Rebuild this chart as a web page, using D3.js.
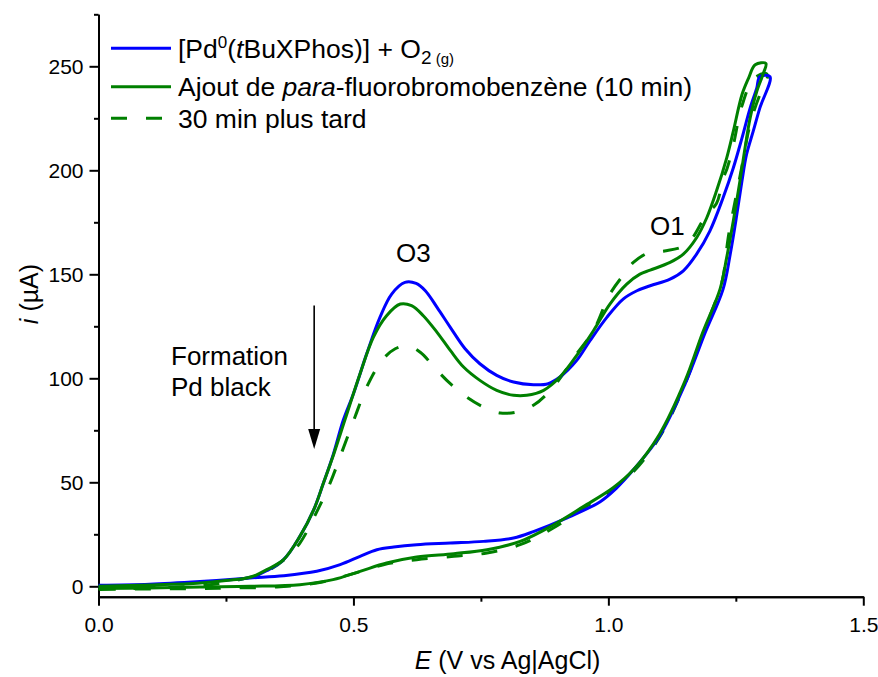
<!DOCTYPE html>
<html>
<head>
<meta charset="utf-8">
<script src="https://cdn.jsdelivr.net/npm/d3@7/dist/d3.min.js"></script>
<style>
  html, body { margin: 0; padding: 0; background: #fff; }
  svg { display: block; }
  text { font-family: Arial, "Liberation Sans", sans-serif; fill: #000; }
</style>
</head>
<body>
<div id="chart"></div>
<script>
// ---------- DATA (E in V vs Ag|AgCl, i in µA) ----------
const blueE = [0.00,0.10,0.20,0.25,0.30,0.33,0.363,0.395,0.422,0.441,0.460,0.480,0.500,0.526,0.552,0.575,0.601,0.623,0.641,0.664,0.690,0.719,0.748,0.781,0.814,0.853,0.882,0.905,0.938,0.964,0.997,1.029,1.056,1.082,1.121,1.147,1.173,1.199,1.225,1.245,1.262,1.278,1.291,1.297,1.317,
  1.297,1.284,1.271,1.262,1.252,1.239,1.225,1.19,1.15,1.10,1.049,1.015,0.984,0.918,0.853,0.814,0.755,0.690,0.624,0.579,0.546,0.513,0.474,0.428,0.363,0.297,0.199,0.10,0.00];
const blueI = [0.3,0.9,2.0,3.0,4.3,7.5,12.8,24.0,36.7,49.5,63.0,79.8,92.6,111.8,129.3,140.5,146.1,145.6,142.1,134.1,124.5,114.2,107.0,101.4,98.2,96.9,97.4,100.6,108.6,118.1,129.3,138.1,142.1,144.5,147.7,151.7,159.7,170.8,186.8,201.1,215.5,229.9,239.5,245.0,245.0,
  229.9,218.7,207.6,194.8,178.8,159.7,142.9,122.0,97.0,72.0,56.0,47.0,40.7,32.8,26.3,23.2,21.6,20.8,20.0,18.9,17.6,14.4,10.4,7.2,5.1,4.0,2.3,1.0,0.5];

const greenE = [0.00,0.10,0.20,0.25,0.30,0.33,0.363,0.395,0.422,0.441,0.462,0.484,0.513,0.539,0.565,0.592,0.614,0.637,0.664,0.690,0.716,0.748,0.781,0.814,0.840,0.873,0.905,0.938,0.971,1.003,1.036,1.062,1.082,1.121,1.147,1.173,1.193,1.212,1.232,1.245,1.262,1.275,1.288,1.309,
  1.304,1.291,1.278,1.268,1.258,1.245,1.232,1.219,1.185,1.15,1.10,1.049,1.010,0.951,0.892,0.827,0.762,0.697,0.624,0.565,0.513,0.460,0.395,0.297,0.199,0.10,0.00];
const greenI = [0.0,0.6,1.6,2.8,4.5,8.0,12.8,24.0,36.7,49.5,64.0,80.5,102.2,119.7,130.1,135.7,134.9,130.1,122.1,113.4,105.4,99.0,94.2,91.8,91.8,94.2,100.6,111.0,123.0,135.7,145.3,150.1,152.0,155.7,159.7,167.6,177.2,190.0,205.9,218.7,236.3,244.3,250.7,251.4,
  246.6,237.9,225.1,210.7,194.8,175.6,158.0,142.9,122.0,98.5,73.0,56.0,47.5,38.3,29.5,21.6,17.6,15.7,14.1,11.2,7.2,3.2,0.8,0.0,-0.3,-0.8,-1.1];

const dashE = [0.00,0.10,0.20,0.27,0.33,0.365,0.395,0.425,0.454,0.478,0.503,0.526,0.556,0.582,0.607,0.631,0.664,0.690,0.722,0.755,0.788,0.820,0.853,0.892,0.938,0.971,1.003,1.036,1.049,1.080,1.110,1.154,1.193,1.212,1.225,1.233,1.245,1.262,1.285,1.310,
  1.312,1.298,1.285,1.275,1.262,1.249,1.235,1.226,1.219,1.185,1.15,1.10,1.049,1.00,0.951,0.892,0.827,0.762,0.697,0.624,0.559,0.493,0.428,0.35,0.265,0.20,0.10,0.00];
const dashI = [-1.3,-0.9,0.3,2.8,7.2,13.0,20.8,34.3,49.5,65.0,81.4,95.8,108.6,114.2,115.5,112.5,103.8,97.4,91.0,86.2,83.3,83.8,87.0,95.8,111.8,123.0,140.5,151.7,155.7,160.5,161.2,164.5,179.0,184.0,196.0,201.0,212.0,231.0,244.0,246.5,
  245.0,236.9,228.0,219.0,202.0,185.7,167.6,150.0,143.0,121.0,97.0,71.5,55.0,45.0,37.5,28.0,20.0,16.0,14.4,12.8,10.4,5.6,1.6,-0.3,-0.8,-1.1,-1.3,-1.5];

const xMajorTicks = [0.0, 0.5, 1.0, 1.5];
const xMinorTicks = [0.25, 0.75, 1.25];
const yMajorTicks = [0, 50, 100, 150, 200, 250];
const yMinorTicks = [25, 75, 125, 175, 225, 275];

// ---------- SETUP ----------
const W = 878, H = 677;
const svg = d3.select("#chart").append("svg").attr("width", W).attr("height", H);

const x = d3.scaleLinear().domain([0, 1.5]).range([98.5, 863.3]);
const y = d3.scaleLinear().domain([-5, 275]).range([596.7, 14.3]);

const BLUE = "#0000ff", GREEN = "#008000";
const DASH = "16,19";

// ---------- AXES ----------
const yAxis = svg.append("g").attr("transform", `translate(${x(0)},0)`)
  .call(d3.axisLeft(y).tickValues(yMajorTicks).tickSize(9).tickSizeOuter(0).tickPadding(6).tickFormat(d3.format("d")));
const yMinor = svg.append("g").attr("transform", `translate(${x(0)},0)`)
  .call(d3.axisLeft(y).tickValues(yMinorTicks).tickSize(4.5).tickSizeOuter(0).tickFormat(""));
const xAxis = svg.append("g").attr("transform", `translate(0,${y(-5)})`)
  .call(d3.axisBottom(x).tickValues(xMajorTicks).tickSize(9).tickSizeOuter(0).tickPadding(11).tickFormat(d3.format(".1f")));
const xMinor = svg.append("g").attr("transform", `translate(0,${y(-5)})`)
  .call(d3.axisBottom(x).tickValues(xMinorTicks).tickSize(5).tickSizeOuter(0).tickFormat(""));

[yAxis, yMinor, xAxis, xMinor].forEach(g => {
  g.selectAll("path.domain").attr("stroke", "#000").attr("stroke-width", 2);
  g.selectAll(".tick line").attr("stroke", "#000").attr("stroke-width", 2);
  g.selectAll(".tick text").attr("font-size", 21).attr("font-family", "Arial, 'Liberation Sans', sans-serif").attr("fill", "#000");
});

// ---------- CURVES ----------
const line = d3.line().x(d => x(d[0])).y(d => y(d[1])).curve(d3.curveCatmullRom.alpha(0.5));
function pts(E, I) { return E.map((e, k) => [e, I[k]]); }

const plot = svg.append("g");
plot.append("path").attr("d", line(pts(dashE, dashI)))
  .attr("fill", "none").attr("stroke", GREEN).attr("stroke-width", 3).attr("stroke-dasharray", DASH);
plot.append("path").attr("d", line(pts(blueE, blueI)))
  .attr("fill", "none").attr("stroke", BLUE).attr("stroke-width", 3).attr("stroke-linejoin", "round");
plot.append("path").attr("d", line(pts(greenE, greenI)))
  .attr("fill", "none").attr("stroke", GREEN).attr("stroke-width", 3).attr("stroke-linejoin", "round");

// ---------- LEGEND ----------
const legend = svg.append("g");
const legY = [48.3, 86.7, 118.3];
const legColors = [BLUE, GREEN, GREEN];
const legDash = [null, null, DASH];
legY.forEach((ly, k) => {
  legend.append("line").attr("x1", 111).attr("x2", 171).attr("y1", ly).attr("y2", ly)
    .attr("stroke", legColors[k]).attr("stroke-width", 3).attr("stroke-dasharray", legDash[k]);
});
const LF = 26.5;
const t1 = legend.append("text").attr("x", 178).attr("y", 57.5).attr("font-size", LF);
t1.append("tspan").text("[Pd");
t1.append("tspan").attr("font-size", 17).attr("dy", -10).text("0");
t1.append("tspan").attr("dy", 10).text("(");
t1.append("tspan").attr("font-style", "italic").text("t");
t1.append("tspan").text("BuXPhos)] + O");
t1.append("tspan").attr("font-size", 19).attr("dy", 6).text("2");
t1.append("tspan").attr("font-size", 15).text(" (g)");

const t2 = legend.append("text").attr("x", 178).attr("y", 96).attr("font-size", LF);
t2.append("tspan").text("Ajout de ");
t2.append("tspan").attr("font-style", "italic").text("para");
t2.append("tspan").text("-fluorobromobenzène (10 min)");

legend.append("text").attr("x", 178).attr("y", 127.5).attr("font-size", LF).text("30 min plus tard");

// ---------- ANNOTATIONS ----------
const AF = 26;
svg.append("text").attr("x", 396).attr("y", 261.5).attr("font-size", AF).text("O3");
svg.append("text").attr("x", 650).attr("y", 234.5).attr("font-size", AF).text("O1");
svg.append("text").attr("x", 171).attr("y", 364.5).attr("font-size", AF).text("Formation");
svg.append("text").attr("x", 171).attr("y", 395.5).attr("font-size", AF).text("Pd black");

const arrowE = 0.423, arrowTop = 135, arrowTip = 66;
svg.append("line").attr("x1", x(arrowE)).attr("x2", x(arrowE)).attr("y1", y(arrowTop)).attr("y2", y(arrowTip) - 18)
  .attr("stroke", "#000").attr("stroke-width", 1.6);
svg.append("path")
  .attr("d", `M${x(arrowE) - 6},${y(arrowTip) - 20} L${x(arrowE) + 6},${y(arrowTip) - 20} L${x(arrowE)},${y(arrowTip)} Z`)
  .attr("fill", "#000");

// ---------- AXIS TITLES ----------
const xt = svg.append("text").attr("x", 507.5).attr("y", 668.5).attr("text-anchor", "middle").attr("font-size", 25);
xt.append("tspan").attr("font-style", "italic").text("E");
xt.append("tspan").text(" (V vs Ag|AgCl)");

const yt = svg.append("text").attr("transform", "translate(38,294) rotate(-90)").attr("text-anchor", "middle").attr("font-size", 25);
yt.append("tspan").attr("font-style", "italic").text("i");
yt.append("tspan").text(" (µA)");
</script>
</body>
</html>
